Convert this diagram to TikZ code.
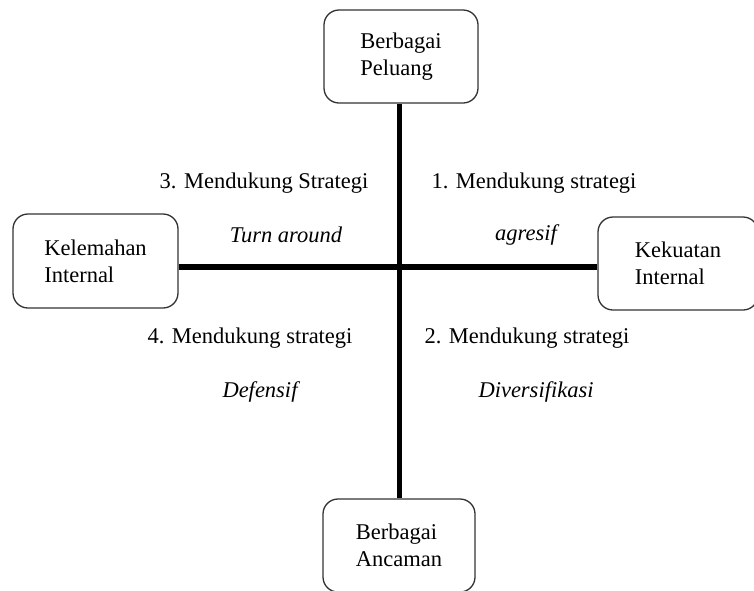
\documentclass[tikz,border=0pt]{standalone}
\usepackage{fontspec}
\setmainfont{Liberation Serif}
\begin{document}
\begin{tikzpicture}[x=1pt,y=-1pt,
    font=\fontsize{22.5}{27}\selectfont,
    pos box/.style={draw=black!80, line width=1.3pt, rounded corners=15pt,
        align=left, inner sep=0pt, minimum height=93pt},
    quad/.style={inner sep=0pt}]
    \useasboundingbox (0,0) rectangle (754,590);
    %% the four boxes
    \node[pos box, minimum width=154pt] (peluang) at (401,56.5) {Berbagai\\Peluang};
    \node[pos box, minimum width=152pt] (ancaman) at (399,545.5) {Berbagai\\Ancaman};
    \node[pos box, minimum width=165pt, minimum height=94pt] (lemah) at (95.5,261) {Kelemahan\\Internal};
    \node[pos box, minimum width=160pt] (kuat) at (678,263.5) {Kekuatan\\Internal};
    %% axes
    \coordinate (c) at (399.5,267);
    \draw[line width=5.5pt] (peluang.south -| c) -- (ancaman.north -| c);
    \draw[line width=5.5pt] (lemah.east |- c) -- (kuat.west |- c);
    %% quadrants
    \node[quad] (q3) at (264,183) {3. Mendukung Strategi};
    \node[quad] (q3s) at (286,235) {\itshape Turn around};
    \node[quad] (q1) at (534,183) {1. Mendukung strategi};
    \node[quad] (q1s) at (526,235) {\itshape agresif};
    \node[quad] (q4) at (250,338) {4. Mendukung strategi};
    \node[quad] (q4s) at (260,392) {\itshape Defensif};
    \node[quad] (q2) at (527,338) {2. Mendukung strategi};
    \node[quad] (q2s) at (536,392) {\itshape Diversifikasi};
\end{tikzpicture}
\end{document}
